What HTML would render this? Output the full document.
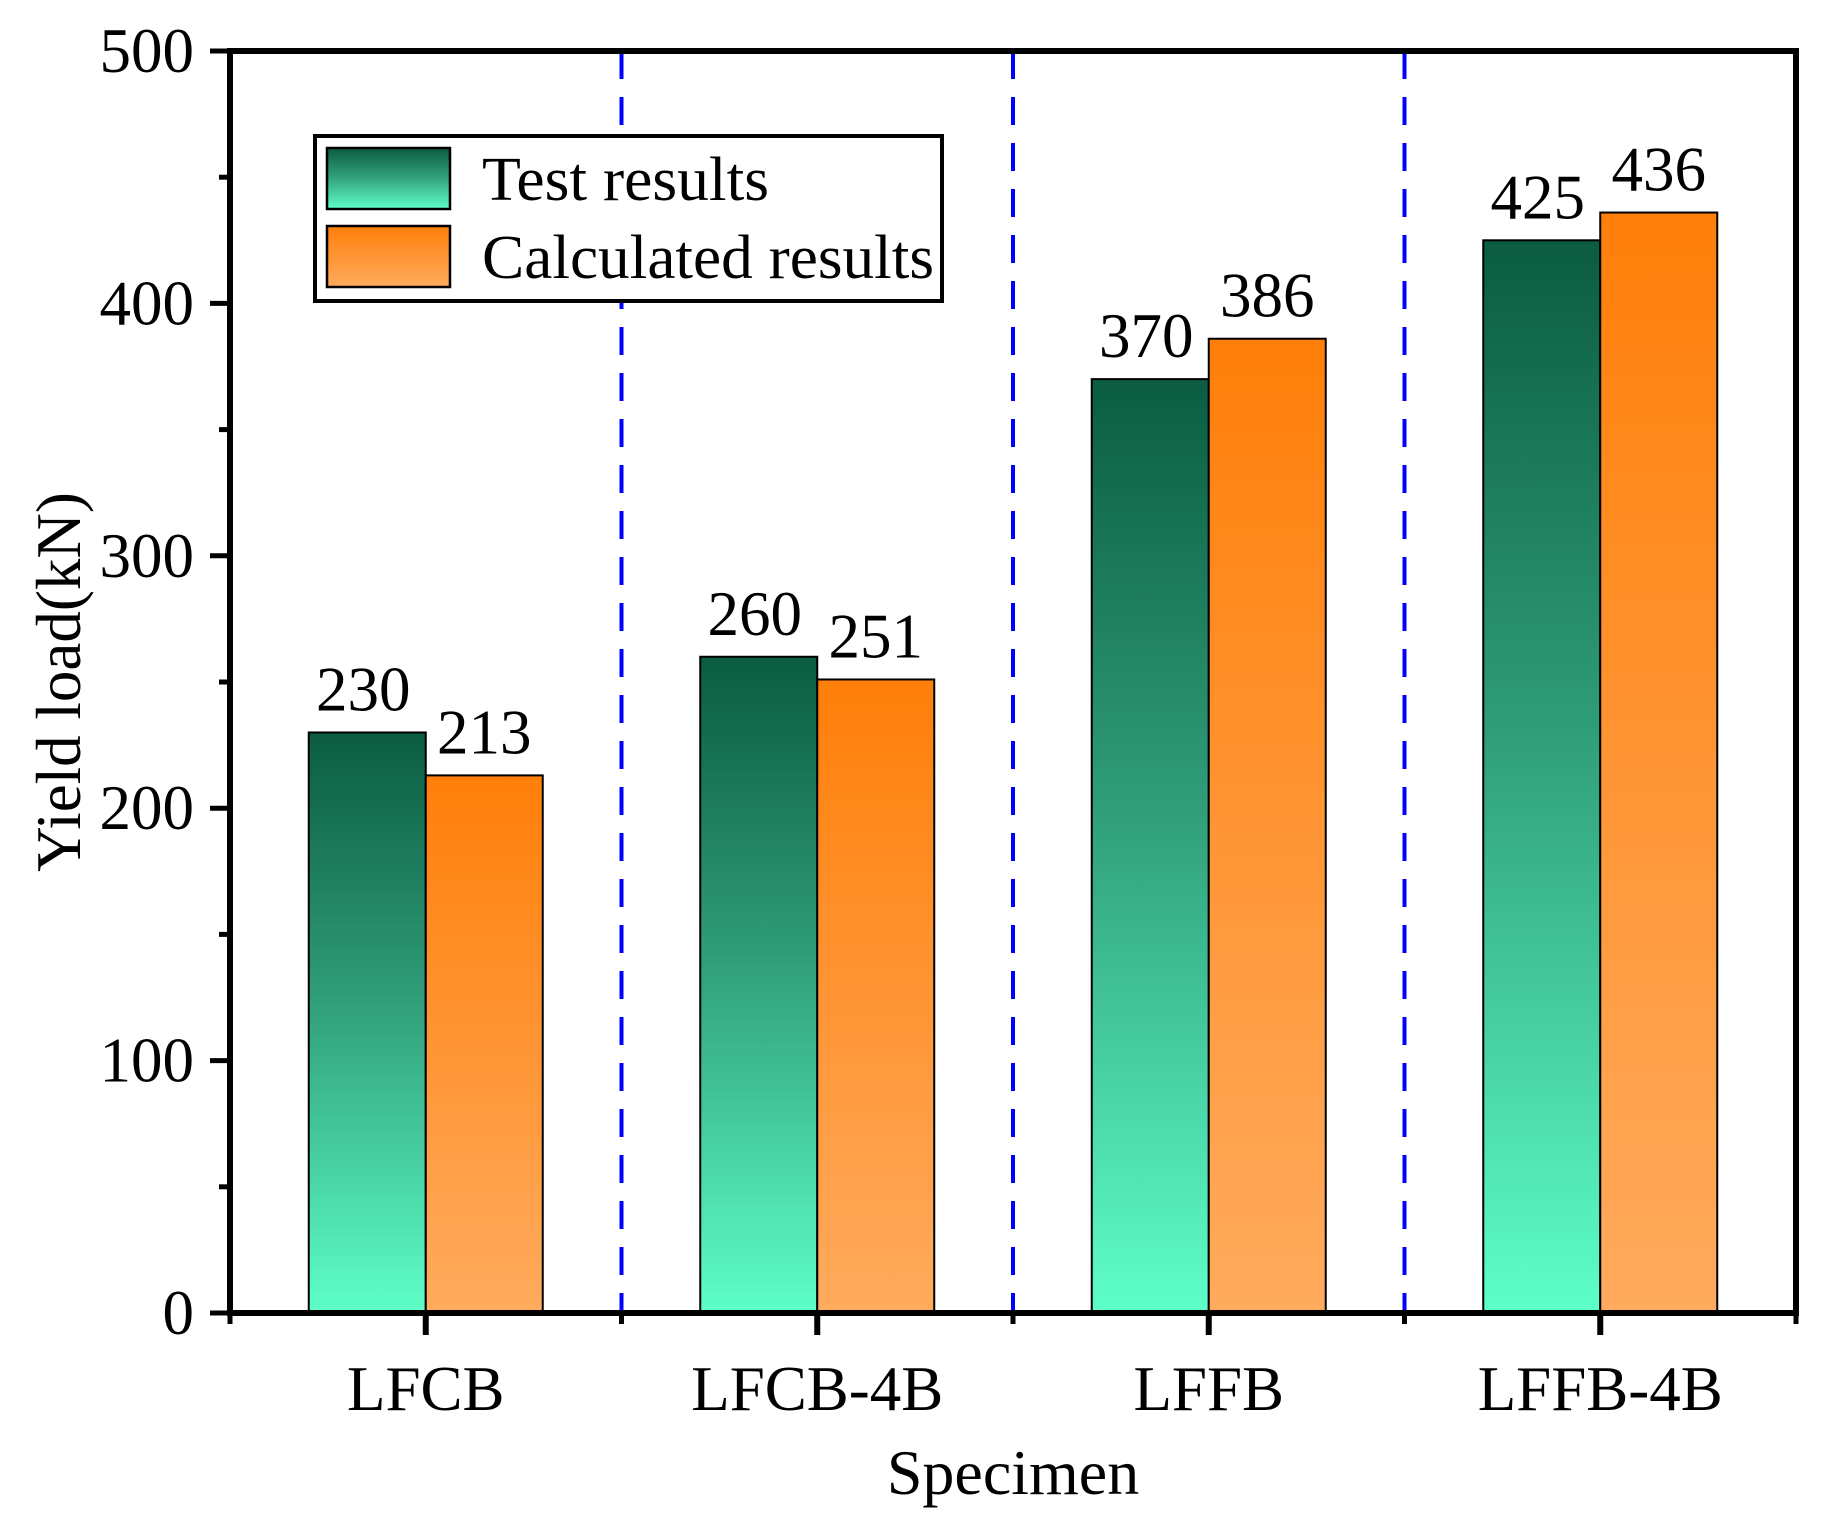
<!DOCTYPE html>
<html><head><meta charset="utf-8"><style>
html,body{margin:0;padding:0;background:#fff}
svg{display:block}
text{font-family:"Liberation Serif",serif;fill:#000}
</style></head><body>
<svg id="chart" width="1823" height="1532" viewBox="0 0 1823 1532">
<defs>
<linearGradient id="gGreen" x1="0" y1="0" x2="0" y2="1">
<stop offset="0" stop-color="#0b5c41"/><stop offset="0.45" stop-color="#2f9c78"/><stop offset="1" stop-color="#5effc8"/>
</linearGradient>
<linearGradient id="gOrange" x1="0" y1="0" x2="0" y2="1">
<stop offset="0" stop-color="#ff7f0a"/><stop offset="1" stop-color="#ffab5e"/>
</linearGradient>
</defs>
<g id="grid"></g>
<g id="bars"></g>
<g id="axes"></g>
<g>
<rect x="315" y="136" width="627" height="165" fill="#fff" stroke="#000" stroke-width="4"/>
<rect x="327" y="148" width="123" height="61" fill="url(#gGreen)" stroke="#000" stroke-width="2.5"/>
<rect x="327" y="226" width="123" height="61" fill="url(#gOrange)" stroke="#000" stroke-width="2.5"/>
<text x="482" y="200" font-size="62" textLength="287" lengthAdjust="spacingAndGlyphs">Test results</text>
<text x="482" y="278" font-size="62" textLength="452" lengthAdjust="spacingAndGlyphs">Calculated results</text>
</g>
<text transform="translate(80,682) rotate(-90)" text-anchor="middle" font-size="63">Yield load(kN)</text>
<text x="1013" y="1494" text-anchor="middle" font-size="64">Specimen</text>
</svg>
<script>
const categories = ["LFCB","LFCB-4B","LFFB","LFFB-4B"];
const testValues = [230,260,370,425];
const calcValues = [213,251,386,436];
const yTicks = [0,100,200,300,400,500];

const L=230,R=1796,T=51,B=1313,yMax=500;
const ns="http://www.w3.org/2000/svg";
function y(v){return B-(v/yMax)*(B-T);}
function cx(i){return L+(i+0.5)*((R-L)/categories.length);}
const bw=117;
function mk(tag,attrs,parent){const e=document.createElementNS(ns,tag);for(const k in attrs)e.setAttribute(k,attrs[k]);parent.appendChild(e);return e;}
const gB=document.getElementById('bars'),gA=document.getElementById('axes'),gG=document.getElementById('grid');
const n=categories.length, step=(R-L)/n;
for(let i=1;i<n;i++){
  const x=L+i*step;
  const ln=mk('line',{x1:x,x2:x,y1:T,y2:B,stroke:'#0000ff','stroke-width':4,'stroke-dasharray':'28 18'},gG);
  
  
}
categories.forEach((c,i)=>{
  const x=cx(i);
  const r1=mk('rect',{x:x-bw,y:y(testValues[i]),width:bw,height:B-y(testValues[i]),fill:'url(#gGreen)',stroke:'#000','stroke-width':2},gB);
  
  
  const r2=mk('rect',{x:x,y:y(calcValues[i]),width:bw,height:B-y(calcValues[i]),fill:'url(#gOrange)',stroke:'#000','stroke-width':2},gB);
  
  
  const t1=mk('text',{x:x-bw/2-4,y:y(testValues[i])-22,'text-anchor':'middle','font-size':63},gB);
  t1.textContent=testValues[i];
  
  
  const t2=mk('text',{x:x+bw/2,y:y(calcValues[i])-22,'text-anchor':'middle','font-size':63},gB);
  t2.textContent=calcValues[i];
  
  
  const tk=mk('line',{x1:x,x2:x,y1:B,y2:B+22,stroke:'#000','stroke-width':6},gA);
  
  
  const lb=mk('text',{x:x,y:1410,'text-anchor':'middle','font-size':63},gA);
  lb.textContent=c;
  
  
});
for(let i=0;i<=n;i++){
  const x=L+i*step;
  mk('line',{x1:x,x2:x,y1:B,y2:B+11,stroke:'#000','stroke-width':5},gA);
}
for(let v=0;v<=yMax;v+=50){
  const major=v%100===0;
  mk('line',{x1:major?210:219,x2:L,y1:y(v),y2:y(v),stroke:'#000','stroke-width':5},gA);
}
yTicks.forEach(v=>{
  const t=mk('text',{x:194,y:y(v)+21,'text-anchor':'end','font-size':63},gA);
  t.textContent=v;
  
  
});
const fr=mk('rect',{x:L,y:T,width:R-L,height:B-T,fill:'none',stroke:'#000','stroke-width':6},gA);


</script>
</body></html>
